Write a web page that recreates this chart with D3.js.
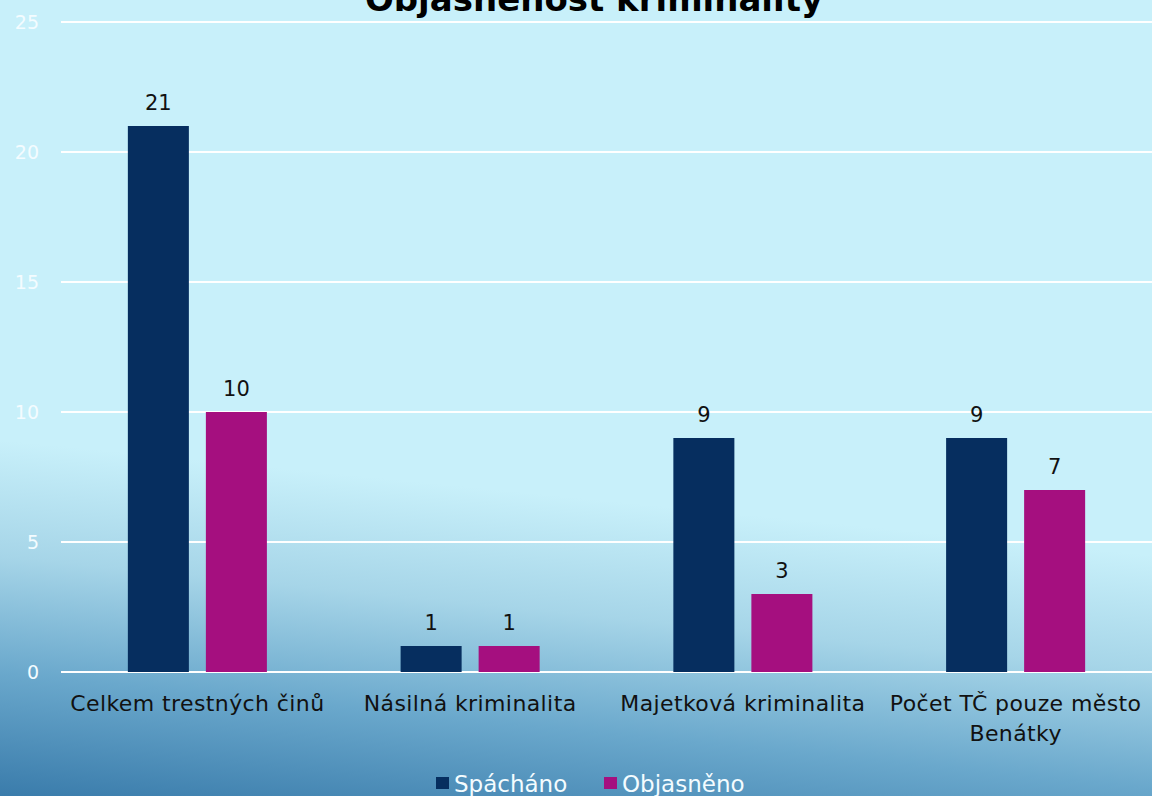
<!DOCTYPE html>
<html>
<head>
<meta charset="utf-8">
<script src="https://cdn.jsdelivr.net/npm/d3@7"></script>
<style>
  html, body { margin: 0; padding: 0; overflow: hidden; }
  svg { display: block; font-family: "DejaVu Sans", sans-serif; }
</style>
</head>
<body>
<script>
// chart data
var categories = ["Celkem trestných činů", "Násilná kriminalita", "Majetková kriminalita", "Počet TČ pouze město Benátky"];
var seriesNames = ["Spácháno", "Objasněno"];
var spachano = [21, 1, 9, 9];
var objasneno = [10, 1, 3, 7];
var yTicks = [0, 5, 10, 15, 20, 25];
var title = "Objasněnost kriminality";

var width = 1152,
    height = 796;

var margin = {left: 61, right: 0, top: 22, bottom: 124};

var colors = ["#062e5f", "#a50f7f"];

var svg = d3.select("body").append("svg")
    .attr("width", width)
    .attr("height", height);

// background gradient (light cyan, darkening to the lower left)
var defs = svg.append("defs");
var grad = defs.append("linearGradient")
    .attr("id", "bg")
    .attr("gradientUnits", "userSpaceOnUse")
    .attr("x1", 0).attr("y1", 440)
    .attr("x2", -36).attr("y2", 800);
grad.append("stop").attr("offset", 0).attr("stop-color", "#c8f0fa");
grad.append("stop").attr("offset", 0.32).attr("stop-color", "#a6d5e8");
grad.append("stop").attr("offset", 0.64).attr("stop-color", "#6aa8cc");
grad.append("stop").attr("offset", 1).attr("stop-color", "#3779a9");

svg.append("rect")
    .attr("width", width)
    .attr("height", height)
    .attr("fill", "url(#bg)");

// scales
var x0 = d3.scaleBand()
    .domain(categories)
    .range([margin.left, width - margin.right])
    .paddingInner(0)
    .paddingOuter(0);

var x1 = d3.scaleBand()
    .domain(seriesNames)
    .range([0, x0.bandwidth()])
    .paddingInner(0.218)
    .paddingOuter(0.857);

var y = d3.scaleLinear()
    .domain([0, 25])
    .range([height - margin.bottom, margin.top]);

// gridlines
svg.append("g")
    .attr("class", "grid")
    .selectAll("line")
    .data(yTicks)
    .enter().append("line")
    .attr("x1", margin.left)
    .attr("x2", width - margin.right)
    .attr("y1", function(d) { return y(d); })
    .attr("y2", function(d) { return y(d); })
    .attr("stroke", "#ffffff")
    .attr("stroke-width", 2);

// y axis labels
var yAxis = d3.axisLeft(y)
    .tickValues(yTicks)
    .tickSize(0)
    .tickPadding(0);

var yg = svg.append("g")
    .attr("transform", "translate(39,0)")
    .call(yAxis);
yg.select(".domain").remove();
yg.selectAll("text")
    .attr("fill", "#f4fcff")
    .attr("font-size", 19)
    .attr("font-family", "DejaVu Sans, sans-serif");

// bars
var rows = categories.map(function(c, i) {
  return {cat: c, values: [spachano[i], objasneno[i]]};
});

var groups = svg.selectAll("g.cat")
    .data(rows)
    .enter().append("g")
    .attr("class", "cat")
    .attr("transform", function(d) { return "translate(" + x0(d.cat) + ",0)"; });

groups.selectAll("rect")
    .data(function(d) {
      return d.values.map(function(v, i) { return {name: seriesNames[i], value: v, i: i}; });
    })
    .enter().append("rect")
    .attr("x", function(d) { return x1(d.name); })
    .attr("y", function(d) { return y(d.value); })
    .attr("width", x1.bandwidth())
    .attr("height", function(d) { return y(0) - y(d.value); })
    .attr("fill", function(d) { return colors[d.i]; });

groups.selectAll("text.val")
    .data(function(d) {
      return d.values.map(function(v, i) { return {name: seriesNames[i], value: v}; });
    })
    .enter().append("text")
    .attr("class", "val")
    .attr("x", function(d) { return x1(d.name) + x1.bandwidth() / 2; })
    .attr("y", function(d) { return y(d.value) - 16; })
    .attr("text-anchor", "middle")
    .attr("font-size", 21)
    .attr("fill", "#111")
    .text(function(d) { return d.value; });

// category labels (wrapped)
var catLabels = svg.selectAll("text.catlabel")
    .data(categories)
    .enter().append("text")
    .attr("class", "catlabel")
    .attr("x", function(d) { return x0(d) + x0.bandwidth() / 2; })
    .attr("y", 711)
    .attr("text-anchor", "middle")
    .attr("font-size", 22)
    .attr("letter-spacing", 0.4)
    .attr("fill", "#111")
    .text(function(d) { return d; });

catLabels.each(function(d) {
  var text = d3.select(this),
      words = d.split(" "),
      maxW = x0.bandwidth() - 4,
      line = [],
      cx = text.attr("x");
  text.text(null);
  var tspan = text.append("tspan").attr("x", cx).attr("dy", 0);
  words.forEach(function(w) {
    line.push(w);
    tspan.text(line.join(" "));
    if (tspan.node().getComputedTextLength() > maxW && line.length > 1) {
      line.pop();
      tspan.text(line.join(" "));
      line = [w];
      tspan = text.append("tspan").attr("x", cx).attr("dy", 30).text(w);
    }
  });
});

// title
svg.append("text")
    .attr("x", 594)
    .attr("y", 11)
    .attr("text-anchor", "middle")
    .attr("font-size", 34)
    .attr("font-weight", "bold")
    .attr("fill", "#000")
    .text(title);

// legend
var legendX = [436, 604];
var legend = svg.selectAll("g.legend")
    .data(seriesNames)
    .enter().append("g")
    .attr("class", "legend")
    .attr("transform", function(d, i) { return "translate(" + legendX[i] + ",777)"; });

legend.append("rect")
    .attr("width", 13)
    .attr("height", 12)
    .attr("fill", function(d, i) { return colors[i]; });

legend.append("text")
    .attr("x", 18)
    .attr("y", 15)
    .attr("font-size", 23)
    .attr("fill", "#f4fcff")
    .text(function(d) { return d; });
</script>
</body>
</html>
